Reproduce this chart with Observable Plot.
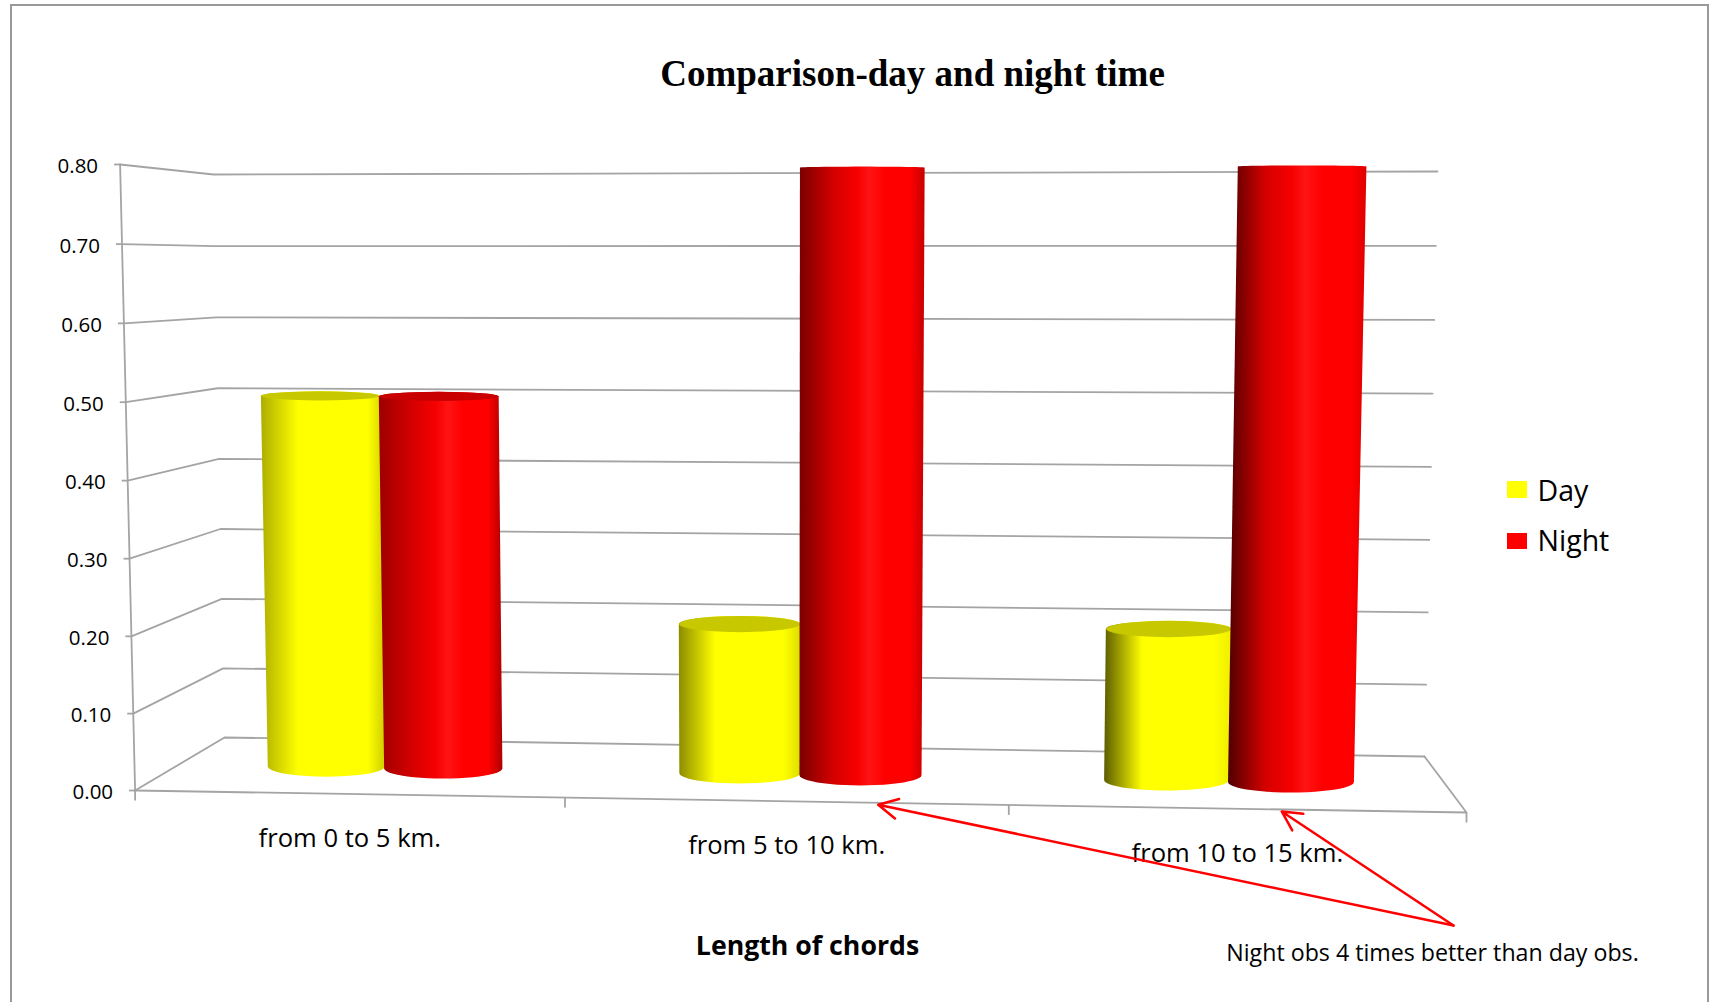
<!DOCTYPE html>
<html>
<head>
<meta charset="utf-8">
<script src="https://cdn.jsdelivr.net/npm/d3@7"></script>
<script src="https://cdn.jsdelivr.net/npm/@observablehq/plot@0.6"></script>
<style>
  html, body { margin: 0; padding: 0; background: #fff; overflow: hidden; }
  #frame { position: absolute; left: 10px; top: 4px; width: 1695px; height: 1010px;
           border: 2px solid #999; box-sizing: content-box; pointer-events: none; }
  #chart { position: absolute; left: 0; top: 0; }
</style>
</head>
<body>
<div id="chart"></div>
<div id="frame"></div>
<script>
// ---- chart values ----
const categories = ["from 0 to 5 km.", "from 5 to 10 km.", "from 10 to 15 km."];
const dayValues = [0.50, 0.20, 0.20];
const nightValues = [0.50, 0.80, 0.80];
const valueTicks = [0, 0.1, 0.2, 0.3, 0.4, 0.5, 0.6, 0.7, 0.8];
const seriesNames = ["Day", "Night"];
const seriesColors = ["#ffff00", "#ff0000"];
const chartTitle = "Comparison-day and night time";
const axisTitle = "Length of chords";
const noteText = "Night obs 4 times better than day obs.";

// ---- 3D box seen by the camera: corners of the plot box on the page ----
const box = {
  f0: [[134.6, 790], [1466, 812]], f8: [[119.6, 164], [1482, 160]],
  b0: [[224, 737], [1424, 756]], b8: [[213, 174], [1437, 171]]
};
const lerp = (a, b, t) => a + (b - a) * t;
// category position u (0..3), value v (0..0.8), depth w (0 front .. 1 back)
function project(u, v, w) {
  let t = u / 3; t = t - 0.047 * t * (1 - t);
  let s = v / 0.8; s = s - 0.02 * s * (1 - s);
  const at = (k) => {
    const f = lerp(lerp(box.f0[0][k], box.f0[1][k], t), lerp(box.f8[0][k], box.f8[1][k], t), s);
    const b = lerp(lerp(box.b0[0][k], box.b0[1][k], t), lerp(box.b8[0][k], box.b8[1][k], t), s);
    return lerp(f, b, w);
  };
  return {x: at(0), y: at(1)};
}

// ---- cylinders ----
const barDepth = 0.5;
const groupCentre = 0.505;
const groupOffset = 0.143;
const barRadius = 0.144;
const flatness = (y) => 1 + Math.max(0, y - 167) * 0.0155;
function ellipseArc(l, r, from, to) {
  const cx = (l.x + r.x) / 2, cy = (l.y + r.y) / 2, rx = (r.x - l.x) / 2, ry = flatness(cy);
  return d3.range(25).map((i) => {
    const a = lerp(from, to, i / 24);
    return {x: cx + rx * Math.cos(a), y: cy + ry * Math.sin(a)};
  });
}
const dayStyle = {left: ["#adad00", "#8c8c00", "#5c5c00"], right: ["#cfcf00", "#dddd00", "#eeee00"], cap: "#c8c800"};
const nightStyle = {left: ["#9c0000", "#7a0000", "#500000"], right: ["#b00000", "#c80000", "#e00000"], cap: "#c80000"};

function cylinder(value, i, side, style, name) {
  const U = i + groupCentre + side * groupOffset;
  const r = barRadius;
  const bl = project(U - r, 0, barDepth), br = project(U + r, 0, barDepth);
  const tl = project(U - r, value, barDepth), tr = project(U + r, value, barDepth);
  const tcy = (tl.y + tr.y) / 2;
  return {
    id: `${name}${i}`, style, i,
    body: [...ellipseArc(bl, br, Math.PI, 0), ...ellipseArc(tl, tr, 0, -Math.PI)],
    cap: flatness(tcy) > 2.5 ? ellipseArc(tl, tr, 0, 2 * Math.PI) : null
  };
}
const cylinders = categories.flatMap((c, i) => [
  cylinder(dayValues[i], i, -1, dayStyle, "day"),
  cylinder(nightValues[i], i, 1, nightStyle, "night")
]);

function gradients() {
  const ns = "http://www.w3.org/2000/svg";
  const defs = document.createElementNS(ns, "defs");
  for (const c of cylinders) {
    const g = document.createElementNS(ns, "linearGradient");
    g.setAttribute("id", c.id);
    const isDay = c.style === dayStyle;
    const stops = isDay
      ? [[0, c.style.left[c.i]], [0.3, "#ffff00"], [0.86, "#ffff00"], [1, c.style.right[c.i]]]
      : [[0, c.style.left[c.i]], [0.27, "#d40000"], [0.46, "#f60000"], [0.56, "#ff1414"], [0.68, "#ff0000"], [0.88, "#ff0000"], [1, c.style.right[c.i]]];
    for (const [o, col] of stops) {
      const s = document.createElementNS(ns, "stop");
      s.setAttribute("offset", o);
      s.setAttribute("stop-color", col);
      g.appendChild(s);
    }
    defs.appendChild(g);
  }
  return defs;
}

// ---- walls and floor ----
const gridColor = "#a4a4a4";
const gridWidth = 1.8;
const gridLines = valueTicks.flatMap((v) => [
  {v, ...project(0, v, 0)}, {v, ...project(0, v, 1)}, {v, ...project(3, v, 1)}
]);
const valueAxisLine = [project(0, 0, 0), project(0, 0.8, 0)];
const floorEdge = [project(3, 0, 1), project(3, 0, 0), project(0, 0, 0)];
const leftTicks = valueTicks.map((v) => ({v, ...project(0, v, 0)}));
const catTicks = d3.range(categories.length + 1).map((u) => project(u, 0, 0));
const catLabels = categories.map((name, i) => ({name, ...project(i + 0.5, 0, 0)}));

// ---- annotation ----
const noteFrom = {x: 1453, y: 925};
const noteTips = [project(1.709, 0, 0), project(2.6, 0, 0)];

const serif = "'Liberation Serif', serif";
const sans = "'Open Sans', sans-serif";

const plot = Plot.plot({
  width: 1710, height: 1002, margin: 0,
  x: {domain: [0, 1710], range: [0, 1710], axis: null},
  y: {domain: [0, 1002], range: [0, 1002], axis: null},
  style: {background: "transparent", overflow: "visible"},
  marks: [
    gradients,
    Plot.line(gridLines, {x: "x", y: "y", z: "v", stroke: gridColor, strokeWidth: gridWidth, curve: "linear"}),
    Plot.line(valueAxisLine, {x: "x", y: "y", stroke: gridColor, strokeWidth: gridWidth}),
    Plot.line(floorEdge, {x: "x", y: "y", stroke: gridColor, strokeWidth: gridWidth}),
    Plot.link(leftTicks, {x1: (d) => d.x - 6, x2: "x", y1: "y", y2: "y", stroke: gridColor, strokeWidth: gridWidth}),
    Plot.link(catTicks, {x1: "x", x2: "x", y1: "y", y2: (d) => d.y + 10, stroke: gridColor, strokeWidth: gridWidth}),
    ...cylinders.flatMap((c) => [
      Plot.line(c.body, {x: "x", y: "y", fill: `url(#${c.id})`, stroke: "none", curve: "linear"}),
      ...(c.cap ? [Plot.line(c.cap, {x: "x", y: "y", fill: c.style.cap, stroke: "none", curve: "linear"})] : [])
    ]),
    Plot.text(leftTicks, {x: (d) => d.x - 22, y: (d) => d.y + 2, text: (d) => d3.format(".2f")(d.v), textAnchor: "end", fontFamily: sans, fontSize: 20.5, fill: "#000"}),
    Plot.text(catLabels, {x: (d) => d.x + 1.5, y: (d) => d.y + 45, text: "name", fontFamily: sans, fontSize: 25.6, fill: "#000"}),
    Plot.text([chartTitle], {x: () => 912, y: () => 74, text: (d) => d, fontFamily: serif, fontWeight: "bold", fontSize: 37, fill: "#000"}),
    Plot.text([axisTitle], {x: () => 807, y: () => 946, text: (d) => d, fontFamily: sans, fontWeight: "bold", fontSize: 26.7, fill: "#000"}),
    Plot.text([noteText], {x: () => 1432, y: () => 953, text: (d) => d, fontFamily: sans, fontSize: 23.2, fill: "#000"}),
    Plot.arrow(noteTips, {x1: () => noteFrom.x, y1: () => noteFrom.y, x2: "x", y2: (d) => d.y + 2, stroke: "#ff0000", strokeWidth: 2.5, bend: 0, headLength: 13, headAngle: 55}),
    Plot.rect(seriesNames, {x1: () => 1507, x2: () => 1527, y1: (d, i) => 481 + i * 52, y2: (d, i) => 498 + i * 51, fill: (d, i) => seriesColors[i]}),
    Plot.text(seriesNames, {x: () => 1537, y: (d, i) => 491 + i * 50, text: (d) => d, textAnchor: "start", fontFamily: sans, fontSize: 28.5, fill: "#000"})
  ]
});
document.getElementById("chart").appendChild(plot);
</script>
</body>
</html>
